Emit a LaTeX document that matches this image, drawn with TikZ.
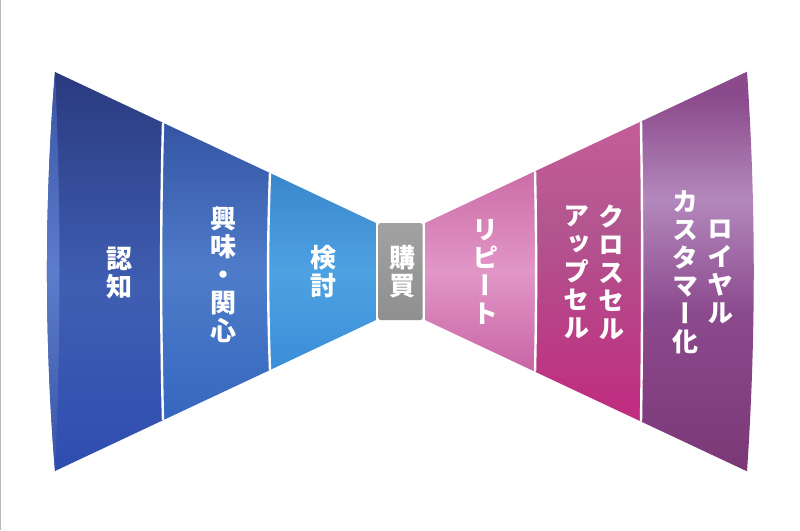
\documentclass[tikz,border=0pt]{standalone}
\usepackage{fontspec}
\newfontfamily\jpfont{Noto Sans CJK JP}[RawFeature=+vert]
\usetikzlibrary{positioning}

% segment colours (T = top, M = light band, B = bottom)
\definecolor{ninchiT}{HTML}{2A3A7F}
\definecolor{ninchiM}{HTML}{3F5EB2}
\definecolor{ninchiB}{HTML}{2E4DB0}
\definecolor{rimT}{HTML}{3A54A6}
\definecolor{rimM}{HTML}{5C7CCA}
\definecolor{kyomiT}{HTML}{3455A4}
\definecolor{kyomiM}{HTML}{4F7CC9}
\definecolor{kyomiB}{HTML}{3467BF}
\definecolor{kentoT}{HTML}{3A86CD}
\definecolor{kentoM}{HTML}{4DA2E2}
\definecolor{kentoB}{HTML}{3A8DD7}
\definecolor{kobaiT}{HTML}{A2A2A2}
\definecolor{kobaiB}{HTML}{8F8F8F}
\definecolor{ripeatT}{HTML}{CC6DA8}
\definecolor{ripeatM}{HTML}{E196C6}
\definecolor{ripeatB}{HTML}{C864A5}
\definecolor{crossT}{HTML}{C25C96}
\definecolor{crossM}{HTML}{B2558F}
\definecolor{crossB}{HTML}{BF2E80}
\definecolor{royalT}{HTML}{8B4A8B}
\definecolor{royalM}{HTML}{B388BC}
\definecolor{royalN}{HTML}{8C4A8E}
\definecolor{royalB}{HTML}{7A3876}

\pgfdeclareverticalshading{ninchishade}{100bp}{color(0bp)=(ninchiB); color(25bp)=(ninchiB); color(48bp)=(ninchiM); color(75bp)=(ninchiT); color(100bp)=(ninchiT)}
\pgfdeclareverticalshading{rimshade}{100bp}{color(0bp)=(rimT); color(25bp)=(rimT); color(50bp)=(rimM); color(75bp)=(rimT); color(100bp)=(rimT)}
\pgfdeclareverticalshading{kyomishade}{100bp}{color(0bp)=(kyomiB); color(25bp)=(kyomiB); color(50bp)=(kyomiM); color(75bp)=(kyomiT); color(100bp)=(kyomiT)}
\pgfdeclareverticalshading{kentoshade}{100bp}{color(0bp)=(kentoB); color(25bp)=(kentoB); color(50bp)=(kentoM); color(75bp)=(kentoT); color(100bp)=(kentoT)}
\pgfdeclareverticalshading{kobaishade}{100bp}{color(0bp)=(kobaiB); color(25bp)=(kobaiB); color(75bp)=(kobaiT); color(100bp)=(kobaiT)}
\pgfdeclareverticalshading{ripeatshade}{100bp}{color(0bp)=(ripeatB); color(25bp)=(ripeatB); color(50bp)=(ripeatM); color(75bp)=(ripeatT); color(100bp)=(ripeatT)}
\pgfdeclareverticalshading{crossshade}{100bp}{color(0bp)=(crossB); color(28bp)=(crossB); color(57bp)=(crossM); color(72bp)=(crossT); color(100bp)=(crossT)}
\pgfdeclareverticalshading{royalshade}{100bp}{color(0bp)=(royalB); color(25bp)=(royalB); color(45bp)=(royalN); color(59bp)=(royalM); color(72bp)=(royalT); color(100bp)=(royalT)}

\begin{document}
\begin{tikzpicture}[
    x=1pt, y=-1pt,
    seglabel/.style={text=white, font=\jpfont\bfseries\fontsize{26}{28}\selectfont, align=center, inner sep=0pt},
    divider/.style={draw=white, line width=2.4pt}
  ]

  \useasboundingbox (0,0) rectangle (800,530);
  \fill[white] (0,0) rectangle (800,530);
  \draw[gray!55, line width=1.2pt] (0.6,0) -- (0.6,530);

  % Left half: awareness side
  \shade[shading=ninchishade] (55,72) -- (163,122.8) .. controls (160.5,222) and (160.5,321) .. (163,420.2) -- (55,471) .. controls (44.3,340) and (44.3,203) .. (55,72) -- cycle;
  \shade[shading=rimshade] (55,72) .. controls (44.3,203) and (44.3,340) .. (55,471) .. controls (61,340) and (61,203) .. (55,72) -- cycle;
  \shade[shading=kyomishade] (163,122.8) -- (270,173) .. controls (267.5,239) and (267.5,304) .. (270,370) -- (163,420.2) .. controls (160.5,321) and (160.5,222) .. (163,122.8) -- cycle;
  \shade[shading=kentoshade] (270,173) -- (376,223) -- (376,320) -- (270,370) .. controls (267.5,304) and (267.5,239) .. (270,173) -- cycle;

  % Centre box
  \shade[shading=kobaishade, rounded corners=2pt] (378.5,223) rectangle (422.5,320);

  % Right half: retention side
  \shade[shading=ripeatshade] (425,223) -- (535,171.3) .. controls (536.5,238) and (536.5,305) .. (535,371.7) -- (425,320) -- cycle;
  \shade[shading=crossshade] (535,171.3) -- (641,121.5) .. controls (642.5,222) and (642.5,321) .. (641,421.5) -- (535,371.7) .. controls (536.5,305) and (536.5,238) .. (535,171.3) -- cycle;
  \shade[shading=royalshade] (641,121.5) -- (747,71.7) .. controls (756,203) and (756,340) .. (747,471.3) -- (641,421.5) .. controls (642.5,321) and (642.5,222) .. (641,121.5) -- cycle;

  % Dividers
  \draw[divider] (163,122.8) .. controls (160.5,222) and (160.5,321) .. (163,420.2);
  \draw[divider] (270,173) .. controls (267.5,239) and (267.5,304) .. (270,370);
  \draw[divider] (535,171.3) .. controls (536.5,238) and (536.5,305) .. (535,371.7);
  \draw[divider] (641,121.5) .. controls (642.5,222) and (642.5,321) .. (641,421.5);

  % Labels
  \node[seglabel] (ninchi) at (119,273) {認\\知};
  \node[seglabel] (kyomi) at (223,275) {興\\味\\・\\関\\心};
  \node[seglabel] (kento) at (323,272) {検\\討};
  \node[seglabel] (kobai) at (402,272) {購\\買};
  \node[seglabel] (ripeat) at (485,272) {リ\\ピ\\ー\\ト};
  \node[seglabel] (cross) at (611,272) {ク\\ロ\\ス\\セ\\ル};
  \node[seglabel, left=8pt of cross] (upsell) {ア\\ッ\\プ\\セ\\ル};
  \node[seglabel] (royal) at (720,272) {ロ\\イ\\ヤ\\ル};
  \node[seglabel, left=8pt of royal] (customer) {カ\\ス\\タ\\マ\\ー\\化};

\end{tikzpicture}
\end{document}
